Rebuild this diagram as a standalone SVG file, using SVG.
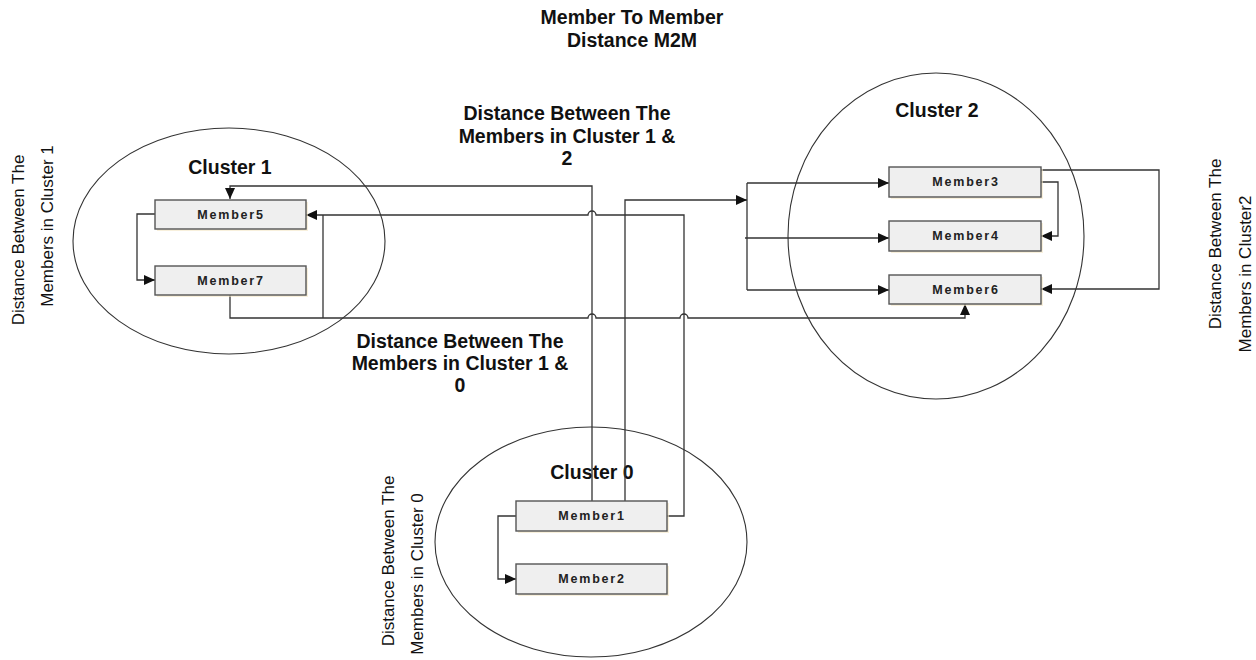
<svg xmlns="http://www.w3.org/2000/svg" width="1256" height="660" viewBox="0 0 1256 660">
<style>
.bg{fill:#fff}
.ell{fill:none;stroke:#333;stroke-width:1.1}
.box{fill:#efefef;stroke:#555;stroke-width:1.4}
.shadow{fill:#f3e6c4;opacity:0.6}
.lbl{font-family:"Liberation Sans",Arial,sans-serif;font-weight:bold;font-size:19.5px;fill:#111;text-anchor:middle}
.mlbl{font-family:"Liberation Sans",Arial,sans-serif;font-weight:bold;font-size:12.5px;letter-spacing:1.8px;fill:#222;text-anchor:middle}
.vlbl{font-family:"Liberation Sans",Arial,sans-serif;font-size:17px;fill:#111;text-anchor:middle}
.ln{fill:none;stroke:#333;stroke-width:1.3}
.arr{fill:none;stroke:#333;stroke-width:1.3;marker-end:url(#ah)}
</style>
<defs>
<marker id="ah" markerUnits="userSpaceOnUse" markerWidth="12" markerHeight="10" refX="11" refY="5" orient="auto">
<path d="M0,0 L11,5 L0,10 z" fill="#111"/>
</marker>
</defs>
<rect class="bg" width="1256" height="660"/>

<g id="title">
<text class="lbl" x="632" y="24">Member To Member</text>
<text class="lbl" x="632" y="47">Distance M2M</text>
</g>
<g id="label-c12">
<text class="lbl" x="567" y="120">Distance Between The</text>
<text class="lbl" x="567" y="143">Members in Cluster 1 &amp;</text>
<text class="lbl" x="567" y="165">2</text>
</g>
<g id="label-c10">
<text class="lbl" x="460" y="348">Distance Between The</text>
<text class="lbl" x="460" y="370">Members in Cluster 1 &amp;</text>
<text class="lbl" x="460" y="392">0</text>
</g>
<g id="vlabel-c1">
<text class="vlbl" transform="translate(24,240) rotate(-90)">Distance Between The</text>
<text class="vlbl" transform="translate(53,226) rotate(-90)">Members in Cluster 1</text>
</g>
<g id="vlabel-c2">
<text class="vlbl" transform="translate(1221,244) rotate(-90)">Distance Between The</text>
<text class="vlbl" transform="translate(1251,274) rotate(-90)">Members in Cluster2</text>
</g>
<g id="vlabel-c0">
<text class="vlbl" transform="translate(394,561) rotate(-90)">Distance Between The</text>
<text class="vlbl" transform="translate(423,574) rotate(-90)">Members in Cluster 0</text>
</g>

<g id="cluster1">
<ellipse class="ell" cx="229" cy="241" rx="156" ry="113"/>
<text class="lbl" x="230" y="174">Cluster 1</text>
</g>
<g id="cluster2">
<ellipse class="ell" cx="936" cy="236" rx="148" ry="163"/>
<text class="lbl" x="937" y="117">Cluster 2</text>
</g>
<g id="cluster0">
<ellipse class="ell" cx="591" cy="542" rx="156" ry="115"/>
<text class="lbl" x="592" y="479">Cluster 0</text>
</g>

<g id="connectors">
<path class="arr" d="M592,501 V186 H230 V199"/>
<path class="arr" d="M667,516 H684 V215 H596 A4,4 0 0 0 588,215 H306"/>
<path class="ln" d="M323,215 V318"/>
<path class="arr" d="M230,295 V318 H588 A4,4 0 0 1 596,318 H680 A4,4 0 0 1 688,318 H965 V304"/>
<path class="arr" d="M625,501 V200 H747"/>
<path class="ln" d="M747,183 V290"/>
<path class="arr" d="M747,183 H889"/>
<path class="arr" d="M745,238 H889"/>
<path class="arr" d="M747,290 H889"/>
<path class="arr" d="M1041,182 H1058 V236 H1041"/>
<path class="arr" d="M1041,170 H1159 V289 H1041"/>
<path class="arr" d="M155,214 H137 V280 H155"/>
<path class="arr" d="M516,516 H498 V579 H516"/>
</g>

<g id="member5">
<rect class="shadow" x="157" y="202" width="151" height="29"/>
<rect class="box" x="155" y="200" width="151" height="29"/>
<text class="mlbl" x="231" y="219">Member5</text>
</g>
<g id="member7">
<rect class="shadow" x="157" y="268" width="151" height="29"/>
<rect class="box" x="155" y="266" width="151" height="29"/>
<text class="mlbl" x="231" y="285">Member7</text>
</g>
<g id="member3">
<rect class="shadow" x="891" y="169" width="152" height="30"/>
<rect class="box" x="889" y="167" width="152" height="30"/>
<text class="mlbl" x="966" y="186">Member3</text>
</g>
<g id="member4">
<rect class="shadow" x="891" y="223" width="152" height="30"/>
<rect class="box" x="889" y="221" width="152" height="30"/>
<text class="mlbl" x="966" y="240">Member4</text>
</g>
<g id="member6">
<rect class="shadow" x="891" y="277" width="152" height="29"/>
<rect class="box" x="889" y="275" width="152" height="29"/>
<text class="mlbl" x="966" y="294">Member6</text>
</g>
<g id="member1">
<rect class="shadow" x="518" y="503" width="151" height="30"/>
<rect class="box" x="516" y="501" width="151" height="30"/>
<text class="mlbl" x="592" y="520">Member1</text>
</g>
<g id="member2">
<rect class="shadow" x="518" y="566" width="151" height="30"/>
<rect class="box" x="516" y="564" width="151" height="30"/>
<text class="mlbl" x="592" y="583">Member2</text>
</g>
</svg>
